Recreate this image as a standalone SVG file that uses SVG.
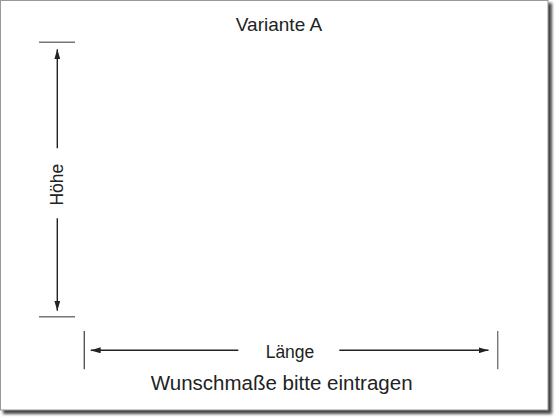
<svg xmlns="http://www.w3.org/2000/svg" width="560" height="420" viewBox="0 0 560 420">
  <defs>
    <filter id="sh" x="-5%" y="-5%" width="110%" height="110%">
      <feGaussianBlur stdDeviation="1.8"/>
    </filter>
    <marker id="ah" viewBox="0 0 10 6" refX="10" refY="3" markerWidth="10" markerHeight="6" markerUnits="userSpaceOnUse" orient="auto">
      <path d="M0,0 L10,3 L0,6 z" fill="#222"/>
    </marker>
    <style>
      text { font-family: "Liberation Sans", Arial, sans-serif; fill: #222; }
      .arr { stroke: #222; stroke-width: 1.4; fill: none; }
      .tick { stroke: #777; stroke-width: 1.4; }
      .vtick { stroke: #555; stroke-width: 1.4; }
    </style>
  </defs>
  <rect x="0" y="0" width="560" height="420" fill="#fff"/>
  <g id="frame">
    <rect x="3" y="3" width="549" height="411" fill="#444" filter="url(#sh)"/>
    <rect x="0.5" y="0.5" width="547.5" height="409.5" fill="#fff" stroke="#999" stroke-width="1"/>
  </g>
  <g id="title">
    <text x="279" y="31" font-size="19" text-anchor="middle">Variante A</text>
  </g>
  <g id="hoehe">
    <line class="tick" x1="39" y1="42.3" x2="75" y2="42.3"/>
    <line class="tick" x1="39" y1="316.7" x2="75" y2="316.7"/>
    <text transform="translate(63.3,184.7) rotate(-90)" font-size="17.5" text-anchor="middle">Höhe</text>
  </g>
  <g id="laenge">
    <line class="vtick" x1="84.3" y1="331" x2="84.3" y2="369.3"/>
    <line class="tick" x1="497.7" y1="331" x2="497.7" y2="369.3"/>
    <text x="290" y="357.5" font-size="17.5" text-anchor="middle">Länge</text>
  </g>
  <g id="caption">
    <text x="281.7" y="390" font-size="20.5" text-anchor="middle">Wunschmaße bitte eintragen</text>
  </g>
  <g id="connectors">
    <line class="arr" x1="57.3" y1="148.3" x2="57.3" y2="49.3" marker-end="url(#ah)"/>
    <line class="arr" x1="57.3" y1="218.3" x2="57.3" y2="310.7" marker-end="url(#ah)"/>
    <line class="arr" x1="238.3" y1="350.3" x2="90.7" y2="350.3" marker-end="url(#ah)"/>
    <line class="arr" x1="339.3" y1="350.3" x2="488.5" y2="350.3" marker-end="url(#ah)"/>
  </g>
</svg>
